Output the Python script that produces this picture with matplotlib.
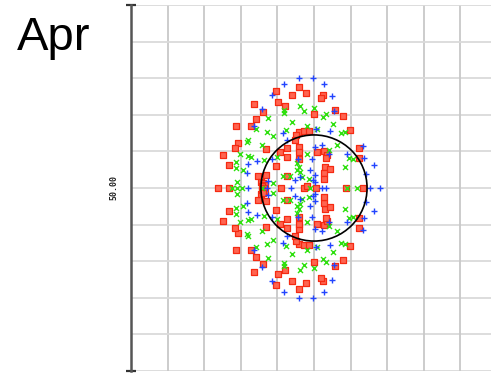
import matplotlib
matplotlib.use("Agg")
import matplotlib.pyplot as plt
from matplotlib.patches import Circle

title = "Apr"
y_tick_label = "50.00"

# ---- red squares ----
red_x = [46.0, 39.6, 43.9, 47.8, 52.4, 51.8, 40.1, 42.1, 33.7, 36.2, 50.1, 55.7, 58.0, 34.2, 32.7, 28.6,
         59.7, 46.0, 47.3, 48.7, 45.0, 44.8, 29.3, 28.4, 36.9, 42.7, 46.0, 40.7, 46.0, 50.9, 52.7, 53.5,
         62.3, 25.0, 42.5, 53.3, 45.8, 26.9, 39.6, 53.0, 54.4, 62.2, 52.6, 34.6, 36.9, 42.7, 35.5, 52.6,
         46.0, 39.6, 43.9, 47.8, 52.4, 51.8, 40.1, 42.1, 33.7, 36.2, 50.1, 55.7, 58.0, 34.2, 32.7, 28.6,
         59.7, 46.0, 47.3, 48.7, 45.0, 44.8, 29.3, 28.4, 36.9, 42.7, 46.0, 40.7, 46.0, 50.9, 52.7, 53.5,
         62.3, 25.0, 42.5, 53.3, 45.8, 26.9, 39.6, 53.0, 54.4, 62.2, 52.6, 34.6, 36.9, 42.7, 35.5, 52.6,
         23.9, 26.9, 41.0, 47.4, 48.2, 50.5, 58.7, 63.5, 36.2, 36.6, 35.8, 36.4, 35.8, 36.6, 36.2]
red_y = [77.7, 76.6, 75.5, 75.9, 75.4, 74.5, 73.6, 72.5, 73.0, 70.9, 70.2, 71.3, 69.7, 68.9, 67.0, 66.9,
         65.8, 65.4, 65.7, 65.6, 64.5, 63.1, 62.2, 60.8, 60.6, 61.0, 61.1, 59.7, 59.9, 59.9, 60.1, 59.0,
         60.8, 59.0, 58.4, 58.1, 57.8, 56.3, 56.0, 55.8, 55.2, 58.1, 54.2, 53.3, 53.5, 53.3, 51.7, 52.5,
         22.3, 23.4, 24.5, 24.1, 24.6, 25.5, 26.4, 27.5, 27.0, 29.1, 29.8, 28.7, 30.3, 31.1, 33.0, 33.1,
         34.2, 34.6, 34.3, 34.4, 35.5, 36.9, 37.8, 39.2, 39.4, 39.0, 38.9, 40.3, 40.1, 40.1, 39.9, 41.0,
         39.2, 41.0, 41.6, 41.9, 42.2, 43.7, 44.0, 44.2, 44.8, 41.9, 45.8, 46.7, 46.5, 46.7, 48.3, 47.5,
         50.0, 50.0, 50.0, 50.0, 50.5, 50.0, 50.0, 50.0, 51.4, 50.9, 50.5, 50.0, 49.5, 49.1, 48.6]

# ---- blue plus ----
blue_x = [45.8, 49.6, 41.9, 52.8, 38.4, 54.9, 35.7, 55.4, 33.7, 50.6, 41.4, 42.5, 54.4, 50.3, 52.3, 63.5,
          54.2, 58.9, 63.7, 66.5, 32.1, 34.3, 38.4, 45.7, 49.4, 31.6, 50.3, 64.1, 37.5, 44.8, 49.6, 50.4,
          46.2, 48.9,
          45.8, 49.6, 41.9, 52.8, 38.4, 54.9, 35.7, 55.4, 33.7, 50.6, 41.4, 42.5, 54.4, 50.3, 52.3, 63.5,
          54.2, 58.9, 63.7, 66.5, 32.1, 34.3, 38.4, 45.7, 49.4, 31.6, 50.3, 64.1, 37.5, 44.8, 49.6, 50.4,
          46.2, 48.9,
          31.9, 37.1, 43.6, 52.1, 53.2, 65.3, 68.0]
blue_y = [80.0, 80.0, 78.3, 78.3, 75.4, 75.2, 71.5, 71.0, 67.0, 66.1, 64.9, 63.1, 65.6, 61.3, 61.7, 61.5,
          59.2, 59.2, 58.1, 56.2, 56.6, 57.4, 57.9, 57.8, 57.8, 54.0, 53.6, 53.7, 51.9, 52.2, 52.2, 51.7,
          53.1, 54.9,
          20.0, 20.0, 21.7, 21.7, 24.6, 24.8, 28.5, 29.0, 33.0, 33.9, 35.1, 36.9, 34.4, 38.7, 38.3, 38.5,
          40.8, 40.8, 41.9, 43.8, 43.4, 42.6, 42.1, 42.2, 42.2, 46.0, 46.4, 46.3, 48.1, 47.8, 47.8, 48.3,
          46.9, 45.1,
          50.0, 50.0, 50.0, 50.0, 50.0, 50.0, 50.0]

# ---- green x ----
green_x = [46.2, 50.1, 41.8, 41.8, 47.3, 53.2, 52.5, 37.5, 43.9, 48.0, 55.1, 50.9, 34.1, 37.1, 42.3, 57.3,
           58.6, 38.9, 32.1, 31.6, 35.7, 56.2, 54.0, 48.0, 29.8, 32.1, 32.7, 39.8, 59.6, 60.6, 28.7, 36.4,
           58.5, 30.5, 46.0, 45.3, 41.6, 43.4, 46.2, 28.9, 48.5, 38.9, 45.3, 46.6, 28.7,
           46.2, 50.1, 41.8, 41.8, 47.3, 53.2, 52.5, 37.5, 43.9, 48.0, 55.1, 50.9, 34.1, 37.1, 42.3, 57.3,
           58.6, 38.9, 32.1, 31.6, 35.7, 56.2, 54.0, 48.0, 29.8, 32.1, 32.7, 39.8, 59.6, 60.6, 28.7, 36.4,
           58.5, 30.5, 46.0, 45.3, 41.6, 43.4, 46.2, 28.9, 48.5, 38.9, 45.3, 46.6, 28.7,
           27.5, 28.9, 30.2, 35.7, 48.9, 59.0, 61.7]
green_y = [72.5, 71.9, 71.3, 70.4, 71.0, 70.1, 69.3, 69.2, 68.1, 67.0, 67.4, 66.1, 66.1, 65.4, 65.8, 64.9,
           65.2, 64.2, 63.1, 62.7, 61.7, 61.7, 60.4, 59.2, 59.2, 58.7, 58.6, 58.6, 58.3, 58.0, 57.2, 57.7,
           55.8, 54.9, 55.8, 54.9, 53.3, 53.3, 54.5, 51.7, 52.5, 51.5, 56.7, 53.0, 55.5,
           27.5, 28.1, 28.7, 29.6, 29.0, 29.9, 30.7, 30.8, 31.9, 33.0, 32.6, 33.9, 33.9, 34.6, 34.2, 35.1,
           34.8, 35.8, 36.9, 37.3, 38.3, 38.3, 39.6, 40.8, 40.8, 41.3, 41.4, 41.4, 41.7, 42.0, 42.8, 42.3,
           44.2, 45.1, 44.2, 45.1, 46.7, 46.7, 45.5, 48.3, 47.5, 48.5, 43.3, 47.0, 44.5,
           50.0, 50.0, 50.0, 50.0, 50.0, 50.0, 50.0]

circle_center = (50.0, 50.0)
circle_radius = 14.5

W, H = 491, 374
fig = plt.figure(figsize=(W / 100, H / 100), dpi=100)
ax = fig.add_axes([131 / W, 3 / H, 366 / W, 366 / H])
ax.set_xlim(0, 100)
ax.set_ylim(0, 100)

for v in range(0, 101, 10):
    ax.axvline(v, color="#c8c8c8", lw=1.3, zorder=0)
    ax.axhline(v, color="#dadada", lw=1.3, zorder=0)

for s in ["top", "right", "bottom"]:
    ax.spines[s].set_visible(False)
ax.spines["left"].set_color("#555555")
ax.spines["left"].set_linewidth(1.8)
ax.set_xticks([])
ax.set_yticks([0, 100])
ax.set_yticklabels([])
ax.tick_params(axis="y", direction="inout", length=7, width=1.6, color="#333333")

ax.text(-4.6, 50, y_tick_label, rotation=90, ha="center", va="center",
        fontsize=6, family="DejaVu Sans Mono", weight="bold", color="#222222",
        transform=ax.transData, clip_on=False)

ax.scatter(red_x, red_y, marker="s", s=13, facecolor="#ff6450", edgecolor="#f52a12",
           linewidths=0.9, zorder=3)
ax.scatter(green_x, green_y, marker="x", s=13, color="#2ee00e", linewidths=1.0, zorder=4)
ax.scatter(blue_x, blue_y, marker="+", s=18, color="#2244ff", linewidths=1.0, zorder=5)

ax.add_patch(Circle(circle_center, circle_radius, fill=False, edgecolor="black", lw=1.2, zorder=6))

fig.text(17 / W, 1 - 50 / H, title, fontsize=34, family="Liberation Sans",
         ha="left", va="baseline", color="black")

fig.savefig("out.png", dpi=100)
